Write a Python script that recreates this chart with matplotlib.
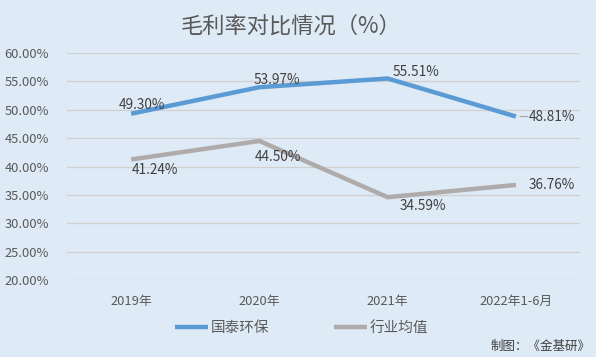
import matplotlib.pyplot as plt
from matplotlib.ticker import FuncFormatter

plt.rcParams['font.family'] = ['Noto Sans CJK SC', 'DejaVu Sans']

years = ['2019年', '2020年', '2021年', '2022年1-6月']
guotai = [49.30, 53.97, 55.51, 48.81]
industry = [41.24, 44.50, 34.59, 36.76]
series_names = ['国泰环保', '行业均值']

# label offsets in pixels (text centre relative to point)
guotai_off = [(11, 9), (17, 7), (28, 6), (36, 0)]
industry_off = [(24, -11), (19, -16), (35, -9), (36, 0)]

bg = '#DEEAF6'
blue = '#5B9BD5'
gray = '#AFABAB'
txt = '#595959'

fig = plt.figure(figsize=(5.96, 3.57), dpi=100, facecolor=bg)
ax = fig.add_axes([0.1124, 0.2157, 0.8608, 0.6358], facecolor=bg)

x = list(range(len(years)))
ax.plot(x, guotai, color=blue, lw=3.2, solid_capstyle='butt', label=series_names[0], zorder=3)
ax.plot(x, industry, color=gray, lw=3.2, solid_capstyle='butt', label=series_names[1], zorder=3)

for xi, v, off in zip(x, guotai, guotai_off):
    ax.annotate(f'{v:.2f}%', (xi, v), xytext=off, textcoords='offset pixels',
                ha='center', va='center', fontsize=9.8, color='#404040', zorder=4)
for xi, v, off in zip(x, industry, industry_off):
    ax.annotate(f'{v:.2f}%', (xi, v), xytext=off, textcoords='offset pixels',
                ha='center', va='center', fontsize=9.8, color='#404040', zorder=4)

# small leader line for the last blue label
ax.annotate('', (x[-1], guotai[-1]), xytext=(12, 0), textcoords='offset pixels',
            arrowprops=dict(arrowstyle='-', color='#A6A6A6', lw=0.8, shrinkA=0, shrinkB=3))

ax.set_xlim(-0.5, 3.5)
ax.set_ylim(20, 60)
ax.set_yticks(range(20, 61, 5))
ax.yaxis.set_major_formatter(FuncFormatter(lambda v, p: f'{v:.2f}%'))
ax.set_xticks(x)
ax.set_xticklabels(years)
ax.tick_params(axis='both', length=0, labelsize=9.3, labelcolor=txt)
ax.tick_params(axis='x', pad=11)
ax.tick_params(axis='y', pad=13)
ax.grid(axis='y', color='#D0D0D0', lw=0.9)
for s in ax.spines.values():
    s.set_visible(False)

fig.text(0.488, 0.928, '毛利率对比情况（%）', ha='center', va='center', fontsize=16, color=txt)

leg = fig.legend(loc='center', bbox_to_anchor=(0.506, 0.081), ncol=2, frameon=False,
                 fontsize=10.5, handlelength=2.3, columnspacing=4.4, handletextpad=0.2)
for t in leg.get_texts():
    t.set_color(txt)

fig.text(0.99, 0.03, '制图：《金基研》', ha='right', va='center', fontsize=9, color='#404040')

fig.savefig('out.png', dpi=100, facecolor=bg)
